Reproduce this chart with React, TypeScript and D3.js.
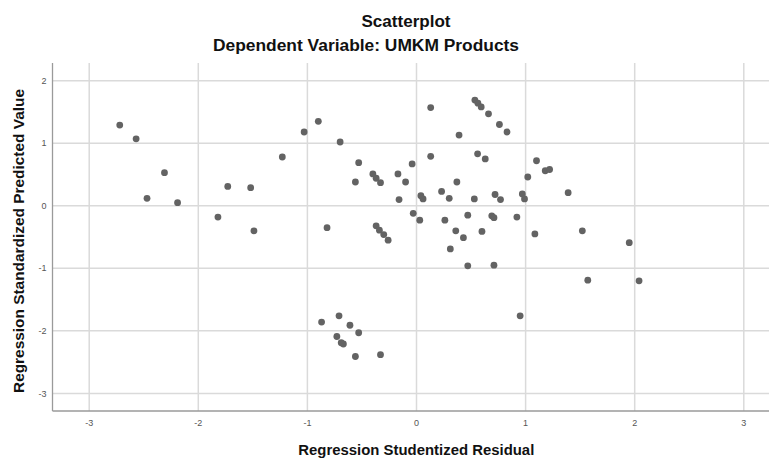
import * as d3 from "d3";

const W = 769;
const H = 458;

// studentized residual (x) vs standardized predicted value (y)
const residual = [
  -2.72, -2.57, -2.31, -2.47, -2.19, -1.82, -1.73, -1.52, -1.49, -1.23,
  -1.03, -0.9, -0.7, -0.53, -0.56, -0.4, -0.37, -0.33, -0.17, -0.1,
  -0.04, -0.16, 0.04, 0.06, 0.13, 0.13, 0.39, 0.535, 0.563, 0.593,
  0.66, 0.76, 0.83, 0.56, 0.63, 0.37, 0.23, 0.3, 0.53, 0.72,
  0.77, 0.97, 0.99, 1.02, 1.1, 1.18, 1.22, 1.39, 1.52, 1.085,
  0.92, 1.95, 1.57, 2.04, 0.95, -0.82, -0.37, -0.34, -0.3, -0.26,
  -0.03, 0.03, 0.26, 0.36, 0.43, 0.47, 0.6, 0.69, 0.71, 0.31,
  0.47, 0.71, -0.87, -0.71, -0.61, -0.53, -0.73, -0.69, -0.67, -0.56,
  -0.33,
];
const predicted = [
  1.29, 1.07, 0.53, 0.12, 0.05, -0.18, 0.31, 0.29, -0.4, 0.78,
  1.18, 1.35, 1.02, 0.69, 0.38, 0.51, 0.44, 0.37, 0.51, 0.38,
  0.67, 0.1, 0.16, 0.11, 0.79, 1.57, 1.13, 1.69, 1.64, 1.58,
  1.47, 1.3, 1.18, 0.83, 0.75, 0.38, 0.23, 0.12, 0.11, 0.18,
  0.1, 0.19, 0.11, 0.46, 0.72, 0.56, 0.58, 0.21, -0.4, -0.45,
  -0.18, -0.59, -1.19, -1.2, -1.76, -0.35, -0.32, -0.39, -0.46, -0.55,
  -0.12, -0.23, -0.23, -0.4, -0.51, -0.15, -0.41, -0.16, -0.19, -0.69,
  -0.96, -0.95, -1.86, -1.76, -1.91, -2.03, -2.09, -2.19, -2.21, -2.41,
  -2.38,
];

const xTicks = [-3, -2, -1, 0, 1, 2, 3];
const yTicks = [-3, -2, -1, 0, 1, 2];

const FRAME = { left: 52.5, right: 769, top: 63, bottom: 411 };
const FONT = "'Liberation Sans', Arial, sans-serif";

export default function App() {
  const x = d3.scaleLinear().domain([-3, 3]).range([89.2, 743.8]);
  const y = d3.scaleLinear().domain([-3, 2]).range([393.4, 80.7]);

  return (
    <svg
      width={W}
      height={H}
      style={{ position: "absolute", left: 0, top: 0, background: "#fff" }}
      fontFamily={FONT}
    >
      {/* titles */}
      <text x={406} y={27} fontSize={16} fontWeight="bold" textAnchor="middle" fill="#111"
        textLength={89} lengthAdjust="spacingAndGlyphs">
        Scatterplot
      </text>
      <text x={366} y={50.5} fontSize={16} fontWeight="bold" textAnchor="middle" fill="#111"
        textLength={306} lengthAdjust="spacingAndGlyphs">
        Dependent Variable: UMKM Products
      </text>

      {/* grid */}
      {yTicks.map((t) => (
        <line key={`gy-${t}`} x1={FRAME.left} x2={FRAME.right} y1={y(t)} y2={y(t)}
          stroke="#dadada" strokeWidth={1.5} />
      ))}
      {xTicks.map((t) => (
        <line key={`gx-${t}`} x1={x(t)} x2={x(t)} y1={FRAME.top} y2={FRAME.bottom}
          stroke="#dadada" strokeWidth={1.5} />
      ))}

      {/* axes */}
      <line x1={FRAME.left} x2={FRAME.left} y1={FRAME.top} y2={FRAME.bottom} stroke="#9a9a9a" strokeWidth={1.3} />
      <line x1={FRAME.left} x2={FRAME.right} y1={FRAME.bottom} y2={FRAME.bottom} stroke="#9a9a9a" strokeWidth={1.3} />

      {yTicks.map((t) => (
        <text key={`ty-${t}`} x={46.5} y={y(t)} dy="0.35em" fontSize={9} textAnchor="end" fill="#555">
          {t}
        </text>
      ))}
      {xTicks.map((t) => (
        <text key={`tx-${t}`} x={x(t)} y={426} fontSize={9} textAnchor="middle" fill="#555">
          {t}
        </text>
      ))}

      {/* axis titles */}
      <text x={416.3} y={455} fontSize={14.5} fontWeight="bold" textAnchor="middle" fill="#111"
        textLength={236} lengthAdjust="spacingAndGlyphs">
        Regression Studentized Residual
      </text>
      <text transform="translate(24,241) rotate(-90)" fontSize={14} fontWeight="bold" textAnchor="middle"
        fill="#111" textLength={304} lengthAdjust="spacingAndGlyphs">
        Regression Standardized Predicted Value
      </text>

      {/* points */}
      {residual.map((r, i) => (
        <circle key={i} cx={x(r)} cy={y(predicted[i])} r={3.4} fill="#636363" />
      ))}
    </svg>
  );
}
